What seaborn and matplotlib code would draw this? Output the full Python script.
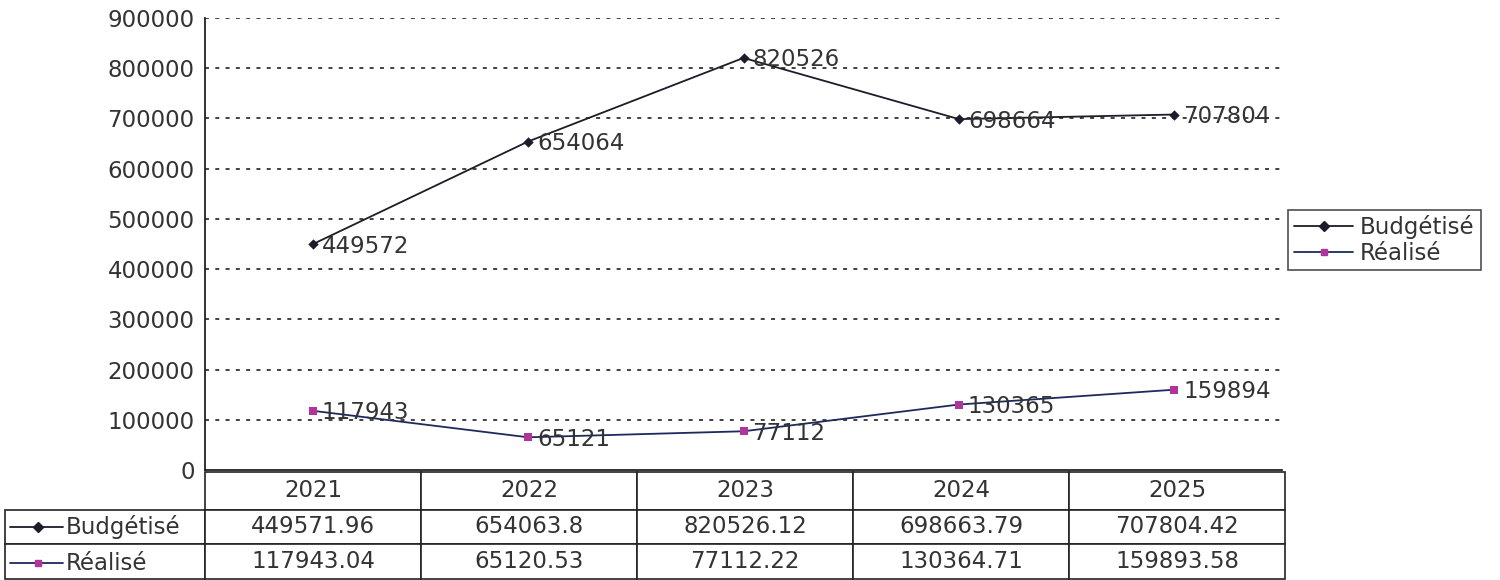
import matplotlib
matplotlib.use("Agg")
import matplotlib.pyplot as plt
from matplotlib.lines import Line2D
import pandas as pd
import seaborn as sns

years = ["2021", "2022", "2023", "2024", "2025"]
budgetise = [449571.96, 654063.8, 820526.12, 698663.79, 707804.42]
realise = [117943.04, 65120.53, 77112.22, 130364.71, 159893.58]
series_names = ["Budgétisé", "Réalisé"]

line_colors = {"Budgétisé": "#1c1c2a", "Réalisé": "#1e2a5e"}
marker_colors = {"Budgétisé": "#1c1c2a", "Réalisé": "#b0359a"}
markers = {"Budgétisé": "D", "Réalisé": "s"}
txt = "#333333"
fs = 16.5

sns.set_style("white")
plt.rcParams["font.family"] = ["DejaVu Sans"]

df = pd.DataFrame({
    "idx": list(range(len(years))) * 2,
    "valeur": budgetise + realise,
    "serie": [series_names[0]] * len(years) + [series_names[1]] * len(years),
})

fig = plt.figure(figsize=(15, 5.8), dpi=100)
ax = fig.add_axes([205 / 1500, 1 - 470 / 580, 1077 / 1500, 452 / 580])

sns.lineplot(data=df, x="idx", y="valeur", hue="serie", palette=line_colors,
             linewidth=1.3, legend=False, ax=ax, zorder=3)
for s in series_names:
    sub = df[df["serie"] == s]
    sns.scatterplot(data=sub, x="idx", y="valeur", color=marker_colors[s],
                    marker=markers[s], s=28 if s == "Budgétisé" else 30,
                    edgecolor=marker_colors[s], linewidth=0, legend=False,
                    ax=ax, zorder=4)
    for xi, v in zip(sub["idx"], sub["valeur"]):
        ax.annotate(f"{round(v):d}", (xi, v), xytext=(9, -2), textcoords="offset pixels",
                    ha="left", va="center", fontsize=fs, color=txt, zorder=5)

ax.set_xlim(-0.5, len(years) - 0.5)
ax.set_ylim(0, 900000)
ax.set_yticks(range(0, 900001, 100000))
ax.set_yticklabels([f"{v:d}" for v in range(0, 900001, 100000)])
ax.set_xticks([])
ax.set_xlabel("")
ax.set_ylabel("")
ax.tick_params(axis="y", labelsize=fs, labelcolor=txt, length=9, width=1.2,
               color="#222222", direction="inout", pad=3)
for v in range(100000, 900001, 100000):
    ax.axhline(v, color="#333333", linewidth=1.3, linestyle=(0, (2.2, 3.5)), zorder=1)
for side in ["top", "right"]:
    ax.spines[side].set_visible(False)
for side in ["left", "bottom"]:
    ax.spines[side].set_color("#222222")
    ax.spines[side].set_linewidth(1.3)

# data table under the chart
cell_text = [[""] + [f"{v}" for v in budgetise],
             [""] + [f"{v}" for v in realise]]
tbl = ax.table(cellText=cell_text, colLabels=[""] + years, cellLoc="center",
               colWidths=[200] + [216] * 5,
               bbox=[-200 / 1077, (470 - 579) / 452, 1280 / 1077, 107 / 452])
tbl.auto_set_font_size(False)
tbl.set_fontsize(fs)
for (r, c), cell in tbl.get_celld().items():
    cell.set_edgecolor("#222222")
    cell.set_linewidth(1.2)
    cell.get_text().set_color(txt)
    cell.set_height(38 if r == 0 else 35)
tbl[0, 0].visible_edges = ""

# row labels with legend keys
for i, s in enumerate(series_names):
    yc = 1 - (527 + 36 * i) / 580
    fig.text(66 / 1500, yc, s, ha="left", va="center", fontsize=fs, color=txt)
    fig.add_artist(Line2D([10 / 1500, 38 / 1500, 63 / 1500], [yc, yc, yc],
                          transform=fig.transFigure, color=line_colors[s], linewidth=1.3,
                          marker=markers[s], markevery=[1], markersize=5,
                          markerfacecolor=marker_colors[s], markeredgecolor=marker_colors[s]))

handles = [Line2D([], [], color=line_colors[s], linewidth=1.3, marker=markers[s], markersize=5,
                  markerfacecolor=marker_colors[s], markeredgecolor=marker_colors[s])
           for s in series_names]
leg = fig.legend(handles, series_names, loc="center left",
                 bbox_to_anchor=(1288 / 1500, 1 - 240 / 580), fontsize=fs,
                 frameon=True, fancybox=False, edgecolor="#222222", handlelength=2.6,
                 borderpad=0.25, labelspacing=0.1, handletextpad=0.3, borderaxespad=0)
leg.get_frame().set_linewidth(1.2)
for t in leg.get_texts():
    t.set_color(txt)

fig.savefig("out.png", dpi=100, facecolor="white")
